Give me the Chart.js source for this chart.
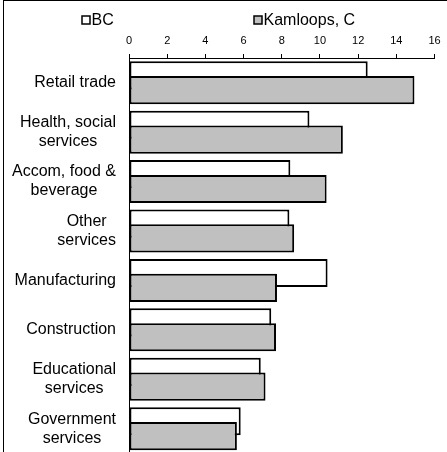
<!DOCTYPE html>
<html>
<head>
<meta charset="utf-8">
<script src="https://cdn.jsdelivr.net/npm/chart.js@4.4.1/dist/chart.umd.min.js"></script>
<style>
	html, body { margin: 0; padding: 0; background: #fff; overflow: hidden; }
	#wrap { position: relative; width: 447px; height: 452px; overflow: hidden; }
	#wrap canvas { position: absolute; left: 0; top: 0; }
	.frame-left { position: absolute; left: 3px; top: 0; width: 1px; height: 452px; background: #000; }
	.frame-top { position: absolute; left: 3px; top: 0; width: 444px; height: 1px; background: #000; }
</style>
</head>
<body>
<div id="wrap">
	<canvas id="chart" width="447" height="456"></canvas>
	<div class="frame-left"></div>
	<div class="frame-top"></div>
</div>
<script>
// chart data
const categories = [
	'Retail trade',
	['Health, social', 'services'],
	['Accom, food &', 'beverage'],
	['Other', 'services'],
	'Manufacturing',
	'Construction',
	['Educational', 'services'],
	['Government', 'services']
];
const seriesNames = ['BC', 'Kamloops, C'];
const bcValues = [12.5, 9.45, 8.45, 8.4, 10.4, 7.45, 6.9, 5.85];
const kamloopsValues = [14.95, 11.2, 10.35, 8.65, 7.75, 7.7, 7.15, 5.65];
const xTicks = [0, 2, 4, 6, 8, 10, 12, 14, 16];

const FONT = 'Arial, "Liberation Sans", sans-serif';

// second series overlaps the first, so draw datasets in index order
const drawOrder = {
	id: 'drawOrder',
	beforeDatasetsDraw(chart) {
		chart.data.datasets.forEach((ds, i) => chart.getDatasetMeta(i).controller.draw());
		return false;
	}
};

// category labels: block right aligned, lines centred inside the block
const catLabels = {
	id: 'catLabels',
	afterDraw(chart) {
		const { ctx } = chart;
		const yScale = chart.scales.y;
		const right = yScale.right - 13;
		ctx.save();
		ctx.font = '16px ' + FONT;
		ctx.fillStyle = '#000';
		ctx.textAlign = 'center';
		ctx.textBaseline = 'middle';
		chart.data.labels.forEach((lab, i) => {
			const lines = Array.isArray(lab) ? lab : [lab];
			const w = Math.max(...lines.map(l => ctx.measureText(l).width));
			const cx = right - w / 2;
			const cy = yScale.getPixelForTick(i);
			lines.forEach((l, j) => {
				ctx.fillText(l, cx, cy + (j - (lines.length - 1) / 2) * 19);
			});
		});
		ctx.restore();
	}
};

// legend drawn like the original, items spread apart
const boxLegend = {
	id: 'boxLegend',
	afterDraw(chart) {
		const { ctx } = chart;
		const itemX = [82, 254];
		ctx.save();
		ctx.font = '16px ' + FONT;
		ctx.textBaseline = 'middle';
		ctx.textAlign = 'left';
		chart.data.datasets.forEach((ds, i) => {
			const x = itemX[i];
			ctx.fillStyle = ds.backgroundColor;
			ctx.fillRect(x, 16, 8, 8);
			ctx.strokeStyle = '#000';
			ctx.lineWidth = 1.5;
			ctx.strokeRect(x, 16, 8, 8);
			ctx.fillStyle = '#000';
			ctx.fillText(ds.label, x + 9.5, 20.5);
		});
		ctx.restore();
	}
};

function main() {
	const ctx = document.getElementById('chart');
	new Chart(ctx, {
		type: 'bar',
		data: {
			labels: categories,
			datasets: [
				{
					label: seriesNames[0],
					data: bcValues,
					backgroundColor: '#ffffff',
					borderColor: '#000000',
					borderWidth: 2,
					borderSkipped: false
				},
				{
					label: seriesNames[1],
					data: kamloopsValues,
					backgroundColor: '#c0c0c0',
					borderColor: '#000000',
					borderWidth: 2,
					borderSkipped: false
				}
			]
		},
		options: {
			indexAxis: 'y',
			responsive: false,
			animation: false,
			categoryPercentage: 0.6,
			barPercentage: 1.9,
			layout: { padding: { left: 0, right: 12.5, top: 30, bottom: 2.6 } },
			plugins: {
				legend: { display: false },
				tooltip: { enabled: false }
			},
			scales: {
				x: {
					position: 'top',
					min: 0,
					max: 16,
					afterBuildTicks(scale) {
						scale.ticks = xTicks.map(v => ({ value: v }));
					},
					afterFit(scale) { scale.height = 28; },
					grid: {
						drawOnChartArea: false,
						drawTicks: true,
						tickLength: 4,
						color: '#000',
						lineWidth: 1
					},
					border: { display: true, color: '#000', width: 1 },
					ticks: {
						padding: 6,
						color: '#000',
						font: { family: FONT, size: 11 },
						maxRotation: 0
					}
				},
				y: {
					afterFit(scale) { scale.width = 129; },
					grid: { drawOnChartArea: false, drawTicks: false },
					border: { display: true, color: '#000', width: 1 },
					ticks: { display: false }
				}
			}
		},
		plugins: [drawOrder, catLabels, boxLegend]
	});
}

document.addEventListener('DOMContentLoaded', main);
</script>
</body>
</html>
